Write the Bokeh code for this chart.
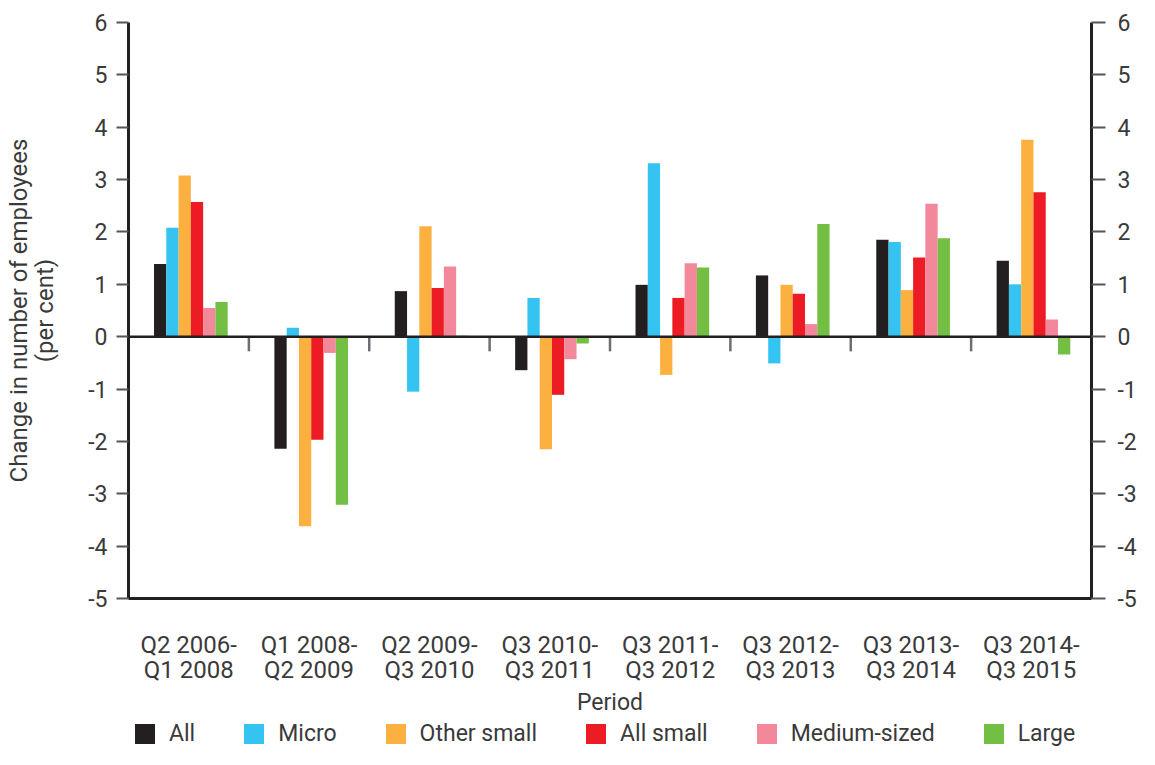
from bokeh.plotting import figure
from bokeh.layouts import column
from bokeh.models import (ColumnDataSource, FactorRange, Range1d, LinearAxis, FixedTicker,
                          Span, Legend, LegendItem)
from bokeh.transform import dodge
from bokeh.embed import file_html
from bokeh.resources import INLINE

# ---------------- data ----------------
periods = ["Q2 2006-\nQ1 2008", "Q1 2008-\nQ2 2009", "Q2 2009-\nQ3 2010", "Q3 2010-\nQ3 2011",
           "Q3 2011-\nQ3 2012", "Q3 2012-\nQ3 2013", "Q3 2013-\nQ3 2014", "Q3 2014-\nQ3 2015"]
series_names = ["All", "Micro", "Other small", "All small", "Medium-sized", "Large"]
all_firms = [1.39, -2.14, 0.87, -0.64, 0.99, 1.17, 1.85, 1.45]
micro = [2.08, 0.17, -1.05, 0.74, 3.31, -0.51, 1.81, 1.00]
other_small = [3.08, -3.62, 2.11, -2.15, -0.73, 0.99, 0.89, 3.76]
all_small = [2.57, -1.97, 0.93, -1.11, 0.74, 0.82, 1.51, 2.76]
medium_sized = [0.55, -0.31, 1.34, -0.43, 1.40, 0.24, 2.54, 0.33]
large = [0.66, -3.21, 0.02, -0.13, 1.32, 2.15, 1.88, -0.34]
colors = ["#231f20", "#35c4f2", "#fbb040", "#ed1c24", "#f3889b", "#72bf44"]
y_ticks = list(range(-5, 7))
y_tick_labels = {t: str(t) for t in y_ticks}

# ---------------- styling constants ----------------
FONT = "Roboto"
TXT = "#3a3a3a"
AX = "#231f20"
TICK = "#555555"
FS = "23px"

cols = ["all_firms", "micro", "other_small", "all_small", "medium_sized", "large"]
source = ColumnDataSource(data=dict(period=periods, all_firms=all_firms, micro=micro,
                                    other_small=other_small, all_small=all_small,
                                    medium_sized=medium_sized, large=large))

p = figure(x_range=FactorRange(*periods), y_range=Range1d(-5, 6),
           width=1139, height=718, output_backend="svg", toolbar_location=None,
           min_border_left=128, min_border_right=0, min_border_top=22, min_border_bottom=118)
p.outline_line_color = None
p.xgrid.visible = False
p.ygrid.visible = False
p.x_range.range_padding = 0

bw = 0.102
for i, (c, col) in enumerate(zip(cols, colors)):
    off = (i - 2.5) * bw + 0.018
    p.vbar(x=dodge("period", off, range=p.x_range), top=c, bottom=0, width=bw,
           source=source, fill_color=col, line_color=None)

# zero line and group separators
p.add_layout(Span(location=0, dimension="width", line_color=AX, line_width=2.5))
sep = ColumnDataSource(data=dict(period=periods[:-1]))
p.segment(x0=dodge("period", 0.5, range=p.x_range), x1=dodge("period", 0.5, range=p.x_range),
          y0=0, y1=-0.28, source=sep, line_color="#6d6e71", line_width=2.5)

# axes
def style_y(ax, tick_len):
    ax.ticker = FixedTicker(ticks=y_ticks)
    ax.major_label_overrides = y_tick_labels
    ax.axis_line_color = AX
    ax.axis_line_width = 3
    ax.major_tick_line_color = TICK
    ax.major_tick_line_width = 2
    ax.major_tick_in = 0
    ax.major_tick_out = tick_len
    ax.minor_tick_line_color = None
    ax.major_label_text_font = FONT
    ax.major_label_text_font_size = FS
    ax.major_label_text_color = TXT

yl = p.yaxis[0]
style_y(yl, 12)
yl.major_label_standoff = 9
yl.axis_label = "Change in number of employees\n(per cent)"
yl.axis_label_text_font = FONT
yl.axis_label_text_font_size = "24px"
yl.axis_label_text_font_style = "normal"
yl.axis_label_text_color = TXT
yl.axis_label_text_line_height = 0.95
yl.axis_label_standoff = 26

yr = LinearAxis()
style_y(yr, 14)
yr.major_label_standoff = 12
p.add_layout(yr, "right")

xa = p.xaxis[0]
xa.axis_line_color = AX
xa.axis_line_width = 3
xa.major_tick_line_color = None
xa.major_tick_out = 0
xa.major_tick_in = 0
xa.major_label_standoff = 32
xa.major_label_text_font = FONT
xa.major_label_text_font_size = "24px"
xa.major_label_text_color = TXT
xa.major_label_text_line_height = 0.9
xa.axis_label = "Period"
xa.axis_label_text_font = FONT
xa.axis_label_text_font_size = FS
xa.axis_label_text_font_style = "normal"
xa.axis_label_text_color = TXT
xa.axis_label_standoff = 2

# legend strip beneath the chart: same series, drawn out of view so only the legend shows
q = figure(width=1139, height=31, output_backend="svg", toolbar_location=None,
           x_range=p.x_range, y_range=Range1d(100, 101),
           x_axis_location=None, y_axis_location=None, min_border=0)
q.outline_line_color = None
q.xgrid.visible = False
q.ygrid.visible = False
leg_renderers = []
for i, (c, col) in enumerate(zip(cols, colors)):
    off = (i - 2.5) * bw
    r = q.vbar(x=dodge("period", off, range=q.x_range), top=c, bottom=0, width=bw,
               source=source, fill_color=col, line_color=None)
    leg_renderers.append(r)
legend = Legend(items=[LegendItem(label=n, renderers=[r]) for n, r in zip(series_names, leg_renderers)],
                orientation="horizontal", location=(4, 2), glyph_width=25, glyph_height=25,
                label_standoff=12, spacing=46, padding=0, margin=0,
                border_line_color=None, background_fill_alpha=0,
                label_text_font=FONT, label_text_font_size="23px", label_text_color=TXT)
q.add_layout(legend)

open("out.html", "w").write(file_html(column(p, q, spacing=0), INLINE))
